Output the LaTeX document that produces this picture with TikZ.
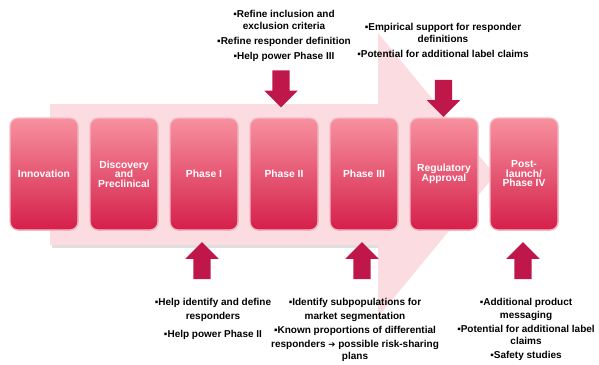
\documentclass[tikz,border=0pt]{standalone}
\usepackage{fontspec}
\setmainfont{Liberation Sans}
\newfontfamily\symfont{DejaVu Sans}
\usetikzlibrary{shapes.arrows,shadows}
\definecolor{bgpink}{HTML}{FADCE1}
\definecolor{boxtop}{HTML}{F7919F}
\definecolor{boxbot}{HTML}{D51F4A}
\definecolor{boxrim}{HTML}{F6BCC6}
\definecolor{crimson}{HTML}{C0174A}
\tikzset{
  stage/.style={rounded corners=8pt, minimum width=68pt, minimum height=112pt,
    top color=boxtop, bottom color=boxbot, draw=boxrim, line width=1.2pt,
    text=white, font=\bfseries\fontsize{10.3}{10.5}\selectfont, align=center, inner sep=1pt,
    drop shadow={shadow xshift=0.8pt, shadow yshift=-0.8pt, fill=gray!60, opacity=0.5}},
  blockarrow/.style={single arrow, fill=crimson, draw=none, inner sep=8.5pt,
    minimum height=37pt, single arrow head extend=8pt, single arrow tip angle=90,
    single arrow head indent=0pt},
  note/.style={font=\bfseries\fontsize{10}{12.5}\selectfont, align=center, inner sep=0pt, text=black}
}
\begin{document}
\begin{tikzpicture}[x=1pt,y=-1pt]
\useasboundingbox (0,0) rectangle (599,364);
% background big arrow
\fill[gray!25] (52,244) rectangle (378,248);
\fill[bgpink] (50,104) -- (378,104) -- (378,33) -- (495,175) -- (378,317) -- (378,245) -- (50,245) -- cycle;
% stages
\node[stage] (s1) at (44,174) {Innovation};
\node[stage] (s2) at (124,174) {Discovery\\[-1pt]and\\[-1pt]Preclinical};
\node[stage] (s3) at (204,174) {Phase I};
\node[stage] (s4) at (284,174) {Phase II};
\node[stage] (s5) at (364,174) {Phase III};
\node[stage] (s6) at (444,174) {Regulatory\\[-1pt]Approval};
\node[stage] (s7) at (524,174) {Post-\\[-1pt]launch/\\[-1pt]Phase IV};
% block arrows
\node[blockarrow, rotate=-90] (a4) at (281,84.5) {};
\node[blockarrow, rotate=-90] (a6) at (443.5,94) {};
\node[blockarrow, rotate=90] (a3) at (202,265) {};
\node[blockarrow, rotate=90] (a5) at (362,265) {};
\node[blockarrow, rotate=90] (a7) at (523,265) {};
% notes
\node[note, anchor=north] (t4) at (284,10.5) {▪Refine inclusion and\\[-0.5pt]exclusion criteria\\[2.5pt]▪Refine responder definition\\[2.5pt]▪Help power Phase III};
\node[note, anchor=north] (t6) at (443,23.5) {▪Empirical support for responder\\[-0.5pt]definitions\\[2.5pt]▪Potential for additional label claims};
\node[note, anchor=north] (t3) at (213,298.5) {▪Help identify and define\\[1pt]responders\\[5.5pt]▪Help power Phase II};
\node[note, anchor=north] (t5) at (355,298.5) {▪Identify subpopulations for\\[1pt]market segmentation\\[2pt]▪Known proportions of differential\\[1pt]responders {\symfont\fontsize{8.5}{12}\selectfont ➔} possible risk-sharing\\[-0.5pt]plans};
\node[note, anchor=north] (t7) at (526,298.5) {▪Additional product\\[0pt]messaging\\[2pt]▪Potential for additional label\\[-0.5pt]claims\\[1pt]▪Safety studies};
\end{tikzpicture}
\end{document}
